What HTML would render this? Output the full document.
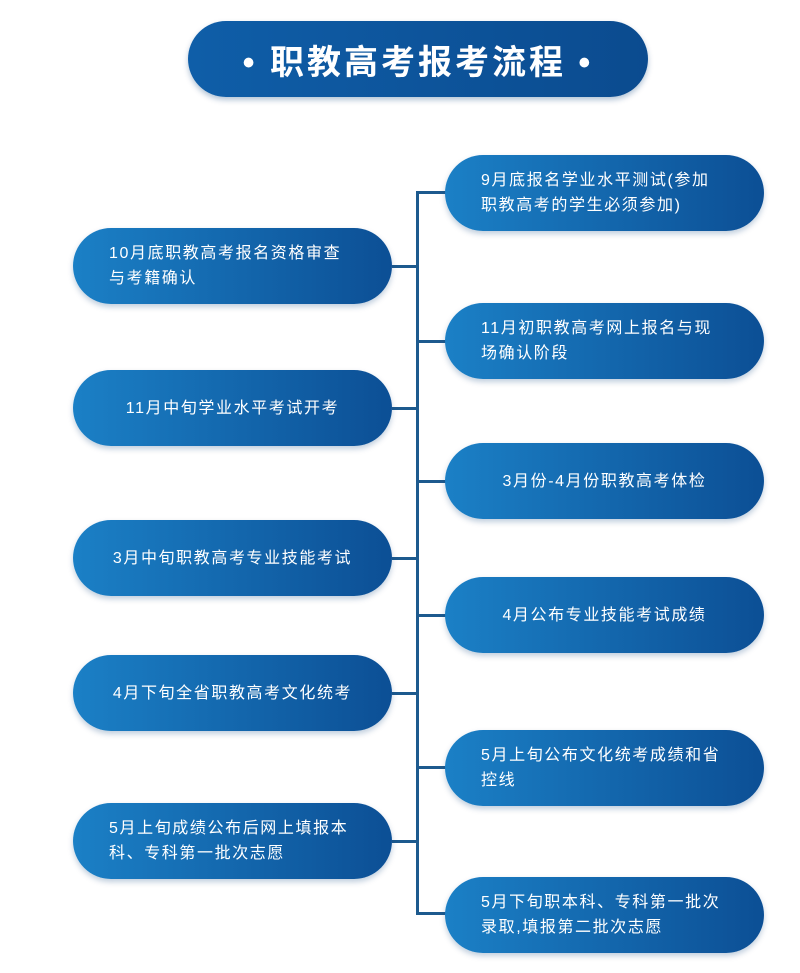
<!DOCTYPE html>
<html><head><meta charset="utf-8"><style>
body{margin:0;width:800px;height:973px;background:#fff;position:relative;overflow:hidden;font-family:"Liberation Sans","Noto Sans CJK SC",sans-serif;}
.t{position:absolute;left:188px;top:21px;width:460px;height:76px;border-radius:38px;background:linear-gradient(90deg,#0f5ea8,#0b4b8f);color:#fff;font-size:34px;font-weight:bold;letter-spacing:3px;display:flex;align-items:center;justify-content:center;box-shadow:0 3px 6px rgba(0,60,120,.3);}
.b{position:absolute;width:319px;height:76px;border-radius:38px;background:linear-gradient(90deg,#1b80c6,#0c4f95);color:#fff;font-size:16px;letter-spacing:1.6px;line-height:25px;box-sizing:border-box;padding:0 10px 0 36px;display:flex;align-items:center;white-space:nowrap;box-shadow:0 3px 6px rgba(0,60,120,.25);}
.c{justify-content:center;padding:0 10px;}
.L{left:73px}.R{left:445px}
.v{position:absolute;left:416px;top:191px;width:3px;height:724px;background:#1d5a8e}
.h{position:absolute;height:3px;background:#1d5a8e}
</style></head><body>
<div class="t">• 职教高考报考流程 •</div>
<div class="v"></div>
<div class="h" style="left:392px;width:26px;top:265px"></div>
<div class="h" style="left:392px;width:26px;top:407px"></div>
<div class="h" style="left:392px;width:26px;top:557px"></div>
<div class="h" style="left:392px;width:26px;top:692px"></div>
<div class="h" style="left:392px;width:26px;top:840px"></div>
<div class="h" style="left:417px;width:30px;top:191px"></div>
<div class="h" style="left:417px;width:30px;top:340px"></div>
<div class="h" style="left:417px;width:30px;top:480px"></div>
<div class="h" style="left:417px;width:30px;top:614px"></div>
<div class="h" style="left:417px;width:30px;top:766px"></div>
<div class="h" style="left:417px;width:30px;top:912px"></div>
<div class="b R" style="top:155px">9月底报名学业水平测试(参加<br>职教高考的学生必须参加)</div>
<div class="b R" style="top:303px">11月初职教高考网上报名与现<br>场确认阶段</div>
<div class="b R c" style="top:443px">3月份-4月份职教高考体检</div>
<div class="b R c" style="top:577px">4月公布专业技能考试成绩</div>
<div class="b R" style="top:730px">5月上旬公布文化统考成绩和省<br>控线</div>
<div class="b R" style="top:877px">5月下旬职本科、专科第一批次<br>录取,填报第二批次志愿</div>
<div class="b L" style="top:228px">10月底职教高考报名资格审查<br>与考籍确认</div>
<div class="b L c" style="top:370px">11月中旬学业水平考试开考</div>
<div class="b L c" style="top:520px">3月中旬职教高考专业技能考试</div>
<div class="b L c" style="top:655px">4月下旬全省职教高考文化统考</div>
<div class="b L" style="top:803px">5月上旬成绩公布后网上填报本<br>科、专科第一批次志愿</div>
</body></html>
